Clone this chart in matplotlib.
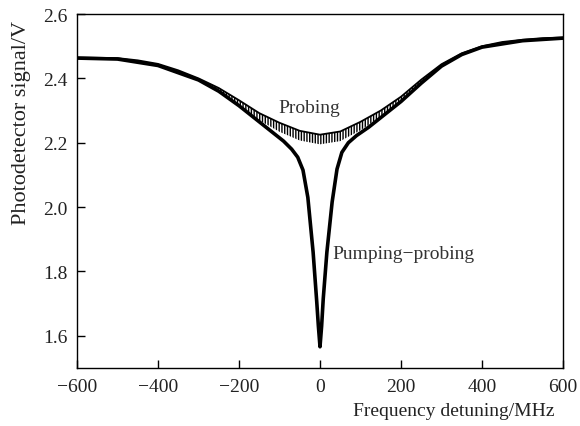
import numpy as np
import matplotlib.pyplot as plt

# probing only (upper trace)
freq_probe = [-600, -500, -450, -400, -350, -300, -250, -200, -150, -100, -50, 0,
              50, 100, 150, 200, 250, 300, 350, 400, 450, 500, 550, 600]
probe = [2.465, 2.463, 2.456, 2.445, 2.425, 2.400, 2.370, 2.332, 2.292, 2.262, 2.237, 2.225,
         2.235, 2.265, 2.300, 2.343, 2.396, 2.444, 2.478, 2.500, 2.513, 2.520, 2.525, 2.527]
# depth of the noise hairs under the probing trace
probe_noise = [0.0, 0.0, 0.0, 0.003, 0.005, 0.008, 0.012, 0.016, 0.022, 0.028, 0.030, 0.030,
               0.030, 0.026, 0.020, 0.014, 0.010, 0.007, 0.004, 0.002, 0.0, 0.0, 0.0, 0.0]

# pumping-probing (with the narrow dip)
freq_pump = [-600, -500, -400, -300, -250, -200, -150, -120, -90, -70, -55, -42, -30, -17,
             -8, -4, 0, 4, 8, 17, 30, 42, 54, 70, 90, 120, 150, 200, 250, 300, 350, 400, 500, 600]
pump = [2.463, 2.460, 2.440, 2.395, 2.360, 2.315, 2.265, 2.235, 2.205, 2.180, 2.155, 2.115,
        2.030, 1.860, 1.705, 1.630, 1.566, 1.630, 1.715, 1.860, 2.016, 2.118, 2.170, 2.200,
        2.222, 2.248, 2.278, 2.328, 2.385, 2.438, 2.474, 2.497, 2.517, 2.525]

plt.rcParams['font.family'] = ['Liberation Serif', 'DejaVu Serif']
plt.rcParams['font.size'] = 14

fig = plt.figure(figsize=(5.8, 4.27), dpi=100)
ax = fig.add_axes([77 / 580, 1 - 369 / 427, 486 / 580, 354 / 427])

fp = np.array(freq_probe)
pp = np.array(probe)
pn = np.array(probe_noise)
ax.fill_between(fp, pp, pp - pn, facecolor='none', edgecolor='black',
                hatch='||||||', linewidth=0)
ax.plot(fp, pp, color='black', lw=1.3)
ax.plot(freq_pump, pump, color='black', lw=2.6)

ax.text(-27, 2.308, 'Probing', ha='center', va='center', color='#333333')
ax.text(30, 1.855, 'Pumping\u2212probing', ha='left', va='center', color='#333333')

ax.set_xlim(-600, 600)
ax.set_ylim(1.5, 2.6)
ax.set_xticks(np.arange(-600, 601, 200))
ax.set_yticks(np.arange(1.6, 2.61, 0.2))
ax.set_yticklabels(['%.1f' % v for v in np.arange(1.6, 2.61, 0.2)])
ax.tick_params(direction='in', length=6, width=1, top=False, right=False, pad=7,
               labelcolor='#222222')
for s in ax.spines.values():
    s.set_linewidth(1)

ax.set_xlabel('Frequency detuning/MHz', color='#222222')
ax.xaxis.set_label_coords(0.776, -0.095)
ax.set_ylabel('Photodetector signal/V', color='#222222', fontsize=16)
ax.yaxis.set_label_coords(-0.095, 0.695)

fig.savefig('out.png', dpi=100)
